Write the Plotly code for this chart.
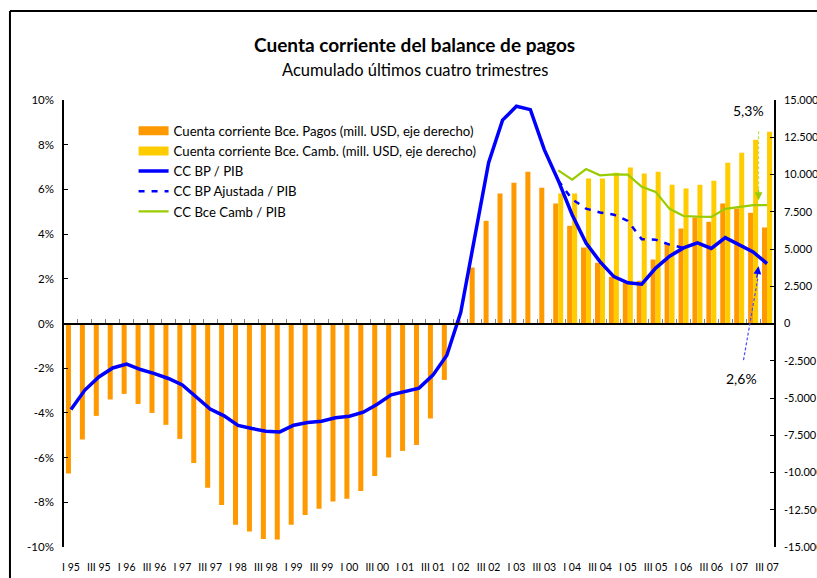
import plotly.graph_objects as go

# quarters I 95 .. III 07
quarters = [
    "I 95", "II 95", "III 95", "IV 95", "I 96", "II 96", "III 96", "IV 96",
    "I 97", "II 97", "III 97", "IV 97", "I 98", "II 98", "III 98", "IV 98",
    "I 99", "II 99", "III 99", "IV 99", "I 00", "II 00", "III 00", "IV 00",
    "I 01", "II 01", "III 01", "IV 01", "I 02", "II 02", "III 02", "IV 02",
    "I 03", "II 03", "III 03", "IV 03", "I 04", "II 04", "III 04", "IV 04",
    "I 05", "II 05", "III 05", "IV 05", "I 06", "II 06", "III 06", "IV 06",
    "I 07", "II 07", "III 07",
]

# mill. USD, right axis
cc_bce_pagos = [
    -10070, -7785, -6200, -5100, -4725, -5400, -6000, -6800,
    -7745, -9355, -11030, -12175, -13515, -13960, -14455, -14500,
    -13515, -12845, -12440, -11945, -11770, -11235, -10230, -8995,
    -8550, -8150, -6375, -3785, 200, 3760, 6890, 8725,
    9440, 10180, 9105, 8055, 6555, 5100, 4075, 3135,
    2750, 2865, 4295, 5350, 6375, 7115, 6825, 8055,
    7720, 7430, 6445,
]
cc_bce_camb = [None] * 35 + [
    8725, 8725, 9730, 9730, 10115, 10470, 10070, 10180,
    9310, 9060, 9310, 9580, 10785, 11455, 12330, 12870,
]

# % of GDP, left axis
cc_bp_pib = [
    -3.85, -2.98, -2.39, -1.99, -1.82, -2.06, -2.24, -2.46,
    -2.75, -3.28, -3.83, -4.13, -4.56, -4.70, -4.82, -4.85,
    -4.55, -4.43, -4.37, -4.22, -4.15, -3.97, -3.61, -3.19,
    -3.03, -2.89, -2.31, -1.42, 0.50, 3.95, 7.20, 9.10,
    9.72, 9.57, 7.78, 6.40, 4.87, 3.60, 2.77, 2.10,
    1.82, 1.76, 2.48, 3.01, 3.38, 3.61, 3.36, 3.84,
    3.52, 3.20, 2.68,
]
cc_bp_ajustada = [None] * 35 + [
    6.40, 5.56, 5.14, 4.97, 4.87, 4.59, 3.77, 3.75, 3.53, 3.38,
] + [None] * 6
cc_camb_pib = [None] * 35 + [
    6.85, 6.44, 6.91, 6.63, 6.67, 6.66, 6.12, 5.89,
    5.13, 4.81, 4.78, 4.77, 5.13, 5.20, 5.30, 5.30,
]

left_ticks = [10, 8, 6, 4, 2, 0, -2, -4, -6, -8, -10]
left_text = ["10%", "8%", "6%", "4%", "2%", "0%", "-2%", "-4%", "-6%", "-8%", "-10%"]
right_ticks = [15000, 12500, 10000, 7500, 5000, 2500, 0, -2500, -5000, -7500, -10000, -12500, -15000]
right_text = ["15.000", "12.500", "10.000", "7.500", "5.000", "2.500", "0", "-2.500",
              "-5.000", "-7.500", "-10.000", "-12.500", "-15.000"]

FONT = "Lato"
ORANGE = "#FF9900"
YELLOW = "#FFCC00"
BLUE = "#0000FF"
GREEN = "#99CC00"

NAME_PAGOS = "Cuenta corriente Bce. Pagos (mill. USD, eje derecho)"
NAME_CAMB = "Cuenta corriente Bce. Camb. (mill. USD, eje derecho)"

fig = go.Figure()

# legend-only swatches so the bar keys look like wide rectangles
for nm, col in [(NAME_PAGOS, ORANGE), (NAME_CAMB, YELLOW)]:
    fig.add_trace(go.Scatter(
        x=[None], y=[None], name=nm, mode="lines",
        line=dict(color=col, width=9), xaxis="x", yaxis="y2", hoverinfo="skip",
    ))

fig.add_trace(go.Bar(
    x=quarters, y=cc_bce_pagos, name=NAME_PAGOS, showlegend=False,
    marker=dict(color=ORANGE, line=dict(width=0)), xaxis="x", yaxis="y",
))
fig.add_trace(go.Bar(
    x=quarters, y=cc_bce_camb, name=NAME_CAMB, showlegend=False,
    marker=dict(color=YELLOW, line=dict(width=0)), xaxis="x", yaxis="y",
))
fig.add_trace(go.Scatter(
    x=quarters, y=cc_bp_pib, name="CC BP / PIB", mode="lines",
    line=dict(color=BLUE, width=3.5), xaxis="x", yaxis="y2",
))
fig.add_trace(go.Scatter(
    x=quarters, y=cc_bp_ajustada, name="CC BP Ajustada / PIB", mode="lines",
    line=dict(color=BLUE, width=2.5, dash="6px,7px"), xaxis="x", yaxis="y2",
))
fig.add_trace(go.Scatter(
    x=quarters, y=cc_camb_pib, name="CC Bce Camb / PIB", mode="lines",
    line=dict(color=GREEN, width=2.2), xaxis="x", yaxis="y2",
))
# invisible trace so the zero-line axis carries the categories
fig.add_trace(go.Scatter(
    x=quarters, y=[None] * len(quarters), mode="none", showlegend=False,
    hoverinfo="skip", xaxis="x2", yaxis="y2",
))

# annotation arrows (dashed stems + heads)
fig.add_shape(type="line", xref="x", yref="y2", x0=49.39, y0=8.60, x1=49.39, y1=6.0,
              line=dict(color="#B5E04A", width=1.2, dash="3px,2px"))
fig.add_annotation(x=49.39, y=5.52, xref="x", yref="y2", ax=0, ay=-12, text="",
                   showarrow=True, arrowhead=2, arrowsize=1.3, arrowwidth=1.2, arrowcolor=GREEN)
fig.add_shape(type="line", xref="x", yref="y2", x0=48.31, y0=-1.64, x1=49.33, y1=2.0,
              line=dict(color="#4D4DFF", width=1.2, dash="3px,2px"))
fig.add_annotation(x=49.39, y=2.56, xref="x", yref="y2", ax=-2, ay=13, text="",
                   showarrow=True, arrowhead=2, arrowsize=1.3, arrowwidth=1.2, arrowcolor=BLUE)
fig.add_annotation(x=48.7, y=9.54, xref="x", yref="y2", text="5,3%", showarrow=False,
                   font=dict(size=14, color="black"))
fig.add_annotation(x=48.14, y=-2.45, xref="x", yref="y2", text="2,6%", showarrow=False,
                   font=dict(size=14, color="black"))

# titles
fig.add_annotation(x=0.494, y=1.125, xref="paper", yref="paper", showarrow=False, yanchor="middle",
                   text="<b>Cuenta corriente del balance de pagos</b>", font=dict(size=19, color="black"))
fig.add_annotation(x=0.494, y=1.067, xref="paper", yref="paper", showarrow=False, yanchor="middle",
                   text="Acumulado últimos cuatro trimestres", font=dict(size=16.5, color="black"))

# outer frame: only its left and top edges fall inside the picture
fig.add_shape(type="line", xref="paper", yref="paper", x0=-0.0761, x1=-0.0761, y0=-0.2, y1=1.199,
              line=dict(color="black", width=2), layer="above")
fig.add_shape(type="line", xref="paper", yref="paper", x0=-0.0761, x1=1.2, y0=1.199, y1=1.199,
              line=dict(color="black", width=2), layer="above")

fig.update_layout(
    width=817, height=578,
    margin=dict(l=64, r=43, t=100, b=31),
    paper_bgcolor="white", plot_bgcolor="white",
    font=dict(family=FONT, size=11, color="black"),
    barmode="group", bargap=0.28, bargroupgap=0,
    showlegend=True,
    legend=dict(x=0.098, y=0.965, xanchor="left", yanchor="top", bgcolor="rgba(0,0,0,0)",
                font=dict(size=13.2), tracegroupgap=0, itemwidth=30),
    xaxis=dict(
        type="category", categoryarray=quarters, range=[-0.5, len(quarters) - 0.5],
        showline=False, ticks="", showgrid=False, zeroline=False, automargin=False,
        tickmode="array", tickvals=quarters[::2], ticktext=quarters[::2],
        tickangle=0, tickfont=dict(size=10.5), ticklabelstandoff=12,
    ),
    xaxis2=dict(
        type="category", categoryarray=quarters, range=[-0.5, len(quarters) - 0.5],
        overlaying="x", anchor="free", position=0.5, automargin=False,
        showline=True, linecolor="black", linewidth=1.5,
        ticks="inside", tickson="boundaries", ticklen=4, tickcolor="#808080", tickwidth=1,
        tickmode="linear", tick0=0, dtick=1, showticklabels=False, showgrid=False, zeroline=False,
    ),
    yaxis=dict(
        side="right", range=[-15000, 15000], tickmode="array",
        tickvals=right_ticks, ticktext=right_text, automargin=False,
        showline=True, linecolor="black", linewidth=1.5,
        ticks="inside", ticklen=4, tickcolor="black",
        showgrid=False, zeroline=False, tickfont=dict(size=11), ticklabelstandoff=6,
    ),
    yaxis2=dict(
        side="left", overlaying="y", range=[-10, 10], tickmode="array",
        tickvals=left_ticks, ticktext=left_text, automargin=False,
        showline=True, linecolor="black", linewidth=1.5,
        ticks="inside", ticklen=4, tickcolor="black",
        showgrid=False, zeroline=False, tickfont=dict(size=11.5), ticklabelstandoff=6,
    ),
)

# drop the page's default body margin so the figure sits at the window's corner
fig.write_html("out.html", config={"displayModeBar": False},
               post_script="document.body.style.margin='0';document.body.style.overflow='hidden';")
